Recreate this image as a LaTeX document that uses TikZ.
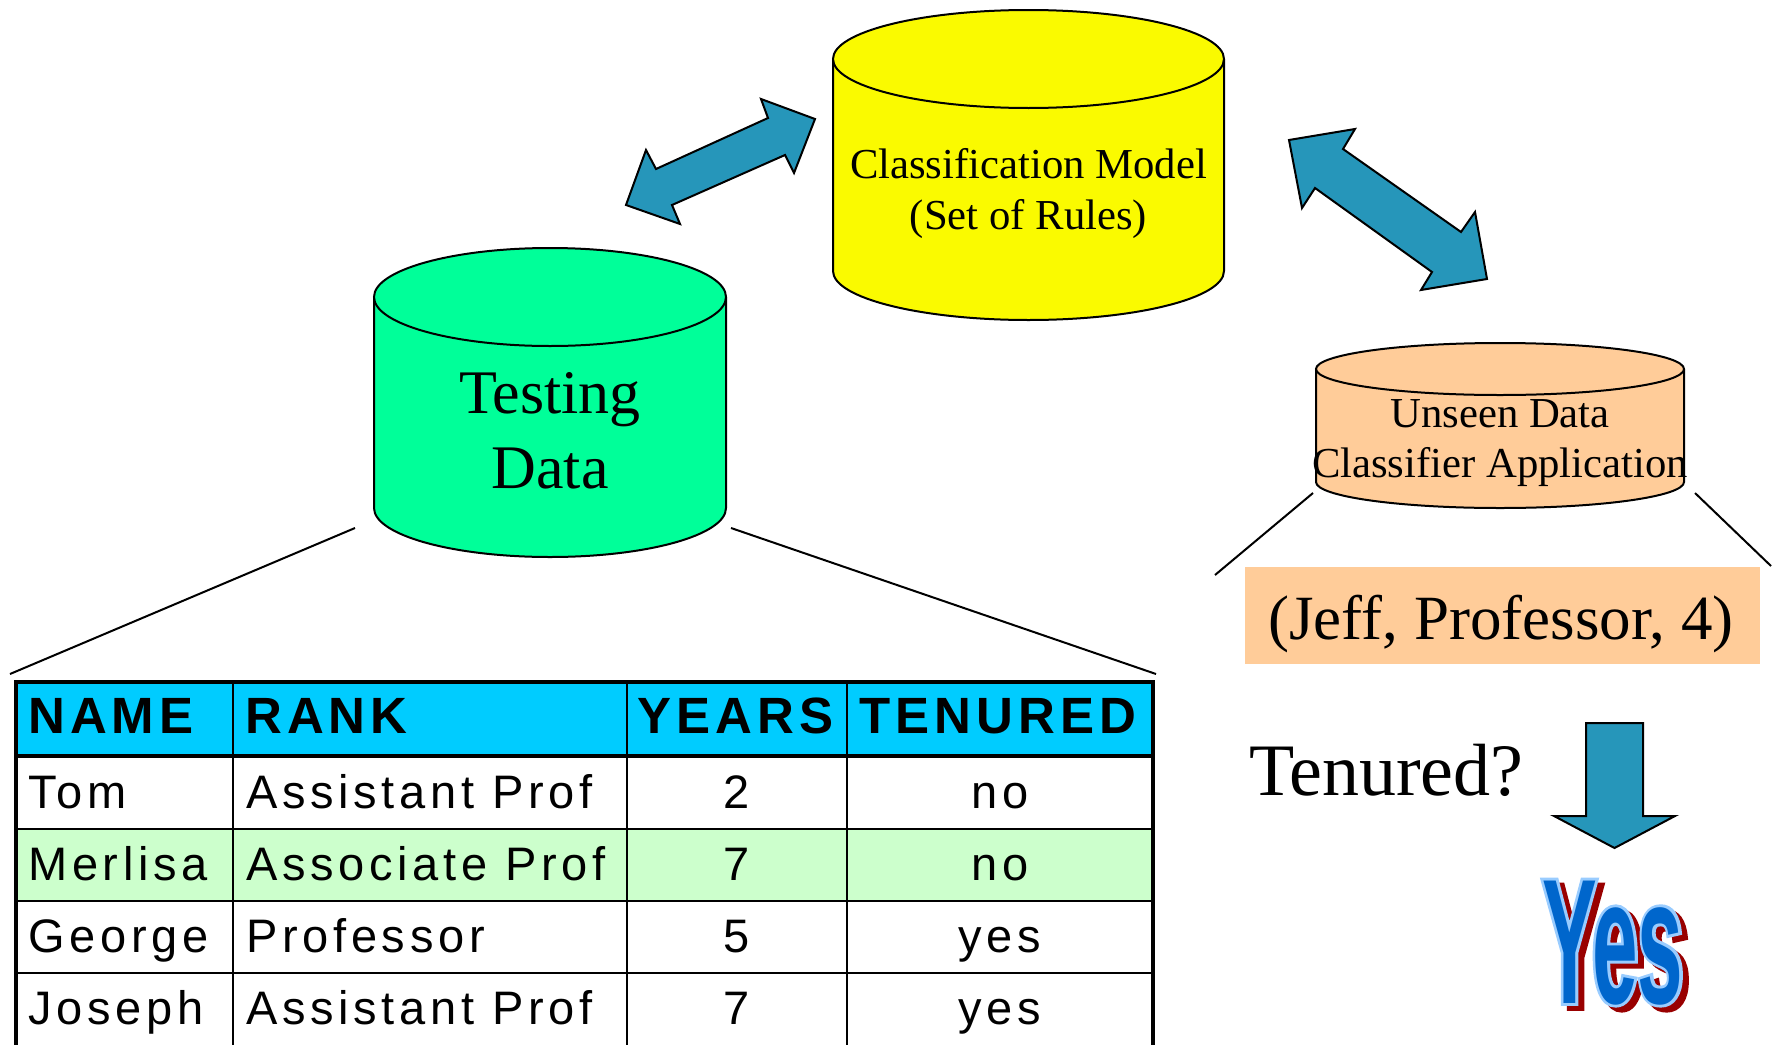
\documentclass[tikz,border=0pt]{standalone}
\usepackage{fontspec}
\setmainfont{Liberation Serif}
\newfontfamily\tabfont[LetterSpace=10]{Liberation Sans}
\newfontfamily\yesfont[FakeStretch=0.46]{Liberation Sans}
\newfontfamily\yesfontfat[FakeStretch=0.46,FakeBold=3.2]{Liberation Sans}
\usetikzlibrary{calc}
\definecolor{cylyellow}{RGB}{250,250,0}
\definecolor{cylgreen}{RGB}{0,255,153}
\definecolor{cylorange}{RGB}{255,204,153}
\definecolor{arrowblue}{RGB}{38,150,186}
\definecolor{headcyan}{RGB}{0,204,255}
\definecolor{rowgreen}{RGB}{204,255,204}
\definecolor{yesblue}{RGB}{0,102,204}
\definecolor{yesout}{RGB}{153,204,255}
\definecolor{yesshadow}{RGB}{153,0,0}
\newcommand\mycylinder[6]{%
  \fill[#1] (#2-#3,#4) -- (#2-#3,#5) arc[start angle=180,end angle=0,x radius=#3,y radius=#6] -- (#2+#3,#4) -- cycle;
  \draw[line width=2pt] (#2-#3,#4) -- (#2-#3,#5) arc[start angle=180,end angle=0,x radius=#3,y radius=#6] -- (#2+#3,#4);
  \draw[line width=2pt,fill=#1] (#2,#4) ellipse[x radius=#3,y radius=#6];
}
\tikzset{
  serif/.style={inner sep=0pt, anchor=base, text=black},
  cmtext/.style={serif, font=\fontsize{42.7}{50}\selectfont},
  tdtext/.style={serif, font=\fontsize{62}{70}\selectfont},
  jefftext/.style={serif, font=\fontsize{63}{70}\selectfont},
  tentext/.style={serif, anchor=base west, font=\fontsize{74}{80}\selectfont},
  tabhead/.style={inner sep=0pt, anchor=base west, font=\tabfont\bfseries\fontsize{51}{60}\selectfont},
  tabbody/.style={inner sep=0pt, anchor=base west, font=\tabfont\fontsize{47}{56}\selectfont},
  tabnum/.style={tabbody, anchor=base},
  blockarrow/.style={fill=arrowblue, draw=black, line width=2pt, line join=miter},
  guide/.style={draw=black, line width=2pt},
  thickrule/.style={draw=black, line width=3.5pt},
  thinrule/.style={draw=black, line width=2.2pt},
  yesstyle/.style={inner sep=0pt, anchor=base west, font=\yesfont\bfseries\fontsize{178}{180}\selectfont},
  yesfat/.style={inner sep=0pt, anchor=base west, font=\yesfontfat\bfseries\fontsize{178}{180}\selectfont},
}
\begin{document}
\begin{tikzpicture}[x=1pt,y=-1pt]
\useasboundingbox (0,0) rectangle (1779,1044);
\clip (0,0) rectangle (1779,1044);

% ---------- cylinders ----------
\mycylinder{cylyellow}{1028.5}{195.5}{59}{271}{49}
\node[inner sep=0pt, minimum width=391pt, minimum height=310pt] (model) at (1028.5,165) {};
\node[cmtext] (model1) at (1028.5,178) {Classification Model};
\node[cmtext] (model2) at (1028.5,229) {(Set of Rules)};

\mycylinder{cylgreen}{550}{176}{297}{508}{49}
\node[inner sep=0pt, minimum width=352pt, minimum height=309pt] (testing) at (550,402) {};
\node[tdtext] (testing1) at (550,413) {Testing};
\node[tdtext] (testing2) at (550,488) {Data};

\mycylinder{cylorange}{1500}{184}{369}{482}{26}
\node[inner sep=0pt, minimum width=368pt, minimum height=165pt] (unseen) at (1500,425) {};
\node[cmtext] (unseen1) at (1500,427) {Unseen Data};
\node[cmtext] (unseen2) at (1500,477) {Classifier Application};

% ---------- block arrows ----------
\draw[blockarrow] (815,119) -- (794,173) -- (785,155) -- (672,205) -- (680,224) -- (626,205)
  -- (646,150) -- (656,169) -- (768,118) -- (761,99) -- cycle;
\draw[blockarrow] (1289,140) -- (1355,129) -- (1343,149) -- (1461,232) -- (1475,212) -- (1487,279)
  -- (1421,290) -- (1432,272) -- (1315,188) -- (1302,208) -- cycle;
\draw[blockarrow] (1586,723) -- (1643,723) -- (1643,816) -- (1675,816) -- (1614.5,848)
  -- (1554,816) -- (1586,816) -- cycle;

% ---------- guide lines ----------
\coordinate (gl1) at (355,528);
\coordinate (gl2) at (10,674);
\coordinate (gr1) at (731,528);
\coordinate (gr2) at (1156,674);
\draw[guide] (gl1) -- (gl2);
\draw[guide] (gr1) -- (gr2);
\coordinate (ol1) at (1313,493);
\coordinate (ol2) at (1215,575);
\coordinate (or1) at (1695,493);
\coordinate (or2) at (1771,566);
\draw[guide] (ol1) -- (ol2);
\draw[guide] (or1) -- (or2);

% ---------- Jeff box ----------
\fill[cylorange] (1245,567) rectangle (1760,664);
\node[jefftext] (jeff) at (1501,639) {(Jeff, Professor, 4)};

% ---------- Tenured? ----------
\node[tentext] (tenured) at (1249,795) {Tenured?};

% ---------- Yes ----------
\coordinate (yesbase) at (1542,1003);
\node[yesfat, text=yesshadow] (yesshadow) at ($(yesbase)+(6,5)$) {Yes};
\node[yesfat, text=yesout] (yesoutline) at (yesbase) {Yes};
\node[yesstyle, text=yesblue] (yes) at (yesbase) {Yes};

% ---------- table ----------
\fill[headcyan] (16,682) rectangle (1153,756);
\fill[rowgreen] (16,829) rectangle (1153,901);
\foreach \y in {829,901,973}{ \draw[thinrule] (16,\y) -- (1153,\y); }
\foreach \x in {233,627,847}{ \draw[thinrule] (\x,682) -- (\x,1060); }
\draw[thickrule] (16,682) -- (1153,682);
\draw[thickrule] (16,756) -- (1153,756);
\draw[thickrule] (16,680.25) -- (16,1060);
\draw[thickrule] (1153,680.25) -- (1153,1060);

\node[tabhead] (hname) at (28,733) {NAME};
\node[tabhead] (hrank) at (245,733) {RANK};
\node[tabhead] (hyears) at (637,733) {YEARS};
\node[tabhead] (hten) at (859,733) {TENURED};

\node[tabbody] (n1) at (28,808) {Tom};
\node[tabbody] (r1) at (246,808) {Assistant Prof};
\node[tabnum] (y1) at (737,808) {2};
\node[tabnum] (t1) at (1000,808) {no};

\node[tabbody] (n2) at (28,880) {Merlisa};
\node[tabbody] (r2) at (246,880) {Associate Prof};
\node[tabnum] (y2) at (737,880) {7};
\node[tabnum] (t2) at (1000,880) {no};

\node[tabbody] (n3) at (28,952) {George};
\node[tabbody] (r3) at (246,952) {Professor};
\node[tabnum] (y3) at (737,952) {5};
\node[tabnum] (t3) at (1000,952) {yes};

\node[tabbody] (n4) at (28,1024) {Joseph};
\node[tabbody] (r4) at (246,1024) {Assistant Prof};
\node[tabnum] (y4) at (737,1024) {7};
\node[tabnum] (t4) at (1000,1024) {yes};
\end{tikzpicture}
\end{document}
